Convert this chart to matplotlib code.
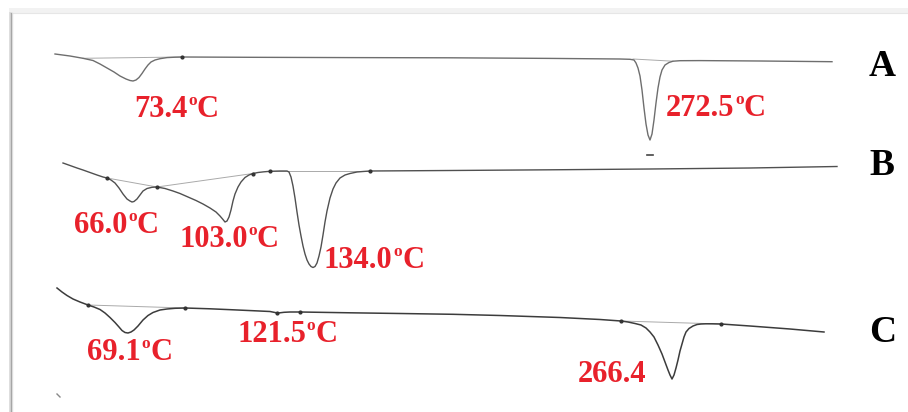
import numpy as np
import matplotlib
matplotlib.use("Agg")
import matplotlib.pyplot as plt

# --- traced DSC curves (x = horizontal position, y = signal, downward = endotherm) ---
# Curve A
a_x = [55, 70, 83, 93, 100, 107, 114, 120, 126, 130, 133, 136, 139, 142, 145, 148, 151, 155, 160, 167,
       175, 182, 250, 350, 450, 550, 620, 630, 634, 636, 638, 640, 642, 644, 646, 648, 650, 652, 654,
       656, 658, 660, 662, 665, 669, 673, 680, 700, 760, 832]
a_y = [54, 56, 58.3, 60.5, 64, 68, 72, 76, 79, 80.5, 81, 80, 77.5, 73.5, 69, 65, 62, 60, 58.7, 57.6,
       57.2, 57, 57.3, 57.6, 57.8, 58.4, 59, 59.3, 60, 63, 68, 76, 90, 108, 124, 135, 140, 134, 120,
       103, 88, 77, 70, 65, 62.5, 61.2, 60.7, 60.6, 61, 61.7]

# Curve B
b_x = [63, 70, 77, 83, 90, 97, 103, 107, 111, 115, 119, 123, 127, 130, 132, 134, 137, 140, 143, 147,
       152, 157, 165, 173, 180, 188, 196, 203, 210, 216, 220, 223, 225, 227, 229, 231, 233, 235, 238,
       241, 245, 249, 253, 258, 264, 270, 280, 287, 289, 291, 293, 295, 297, 299, 301, 303, 305, 307,
       309, 311, 313, 315, 317, 319, 321, 323, 325, 327, 330, 333, 336, 340, 345, 350, 357, 363, 370,
       450, 550, 650, 750, 837]
b_y = [163, 165.5, 168, 170, 172.5, 175, 177, 178, 180, 183, 188, 194, 199, 201, 202, 201.5, 199, 195,
       191, 188.5, 187.3, 187, 188.5, 191, 193.5, 197, 200.5, 204, 208, 212, 216, 219.5, 222, 221,
       217, 210, 201, 194, 187, 182, 177.5, 175, 173.5, 172.5, 171.8, 171.3, 171, 171, 172, 177, 186,
       198, 212, 225, 236, 246, 254, 260, 264, 266.5, 267.5, 266.5, 263, 256, 247, 235, 222, 211,
       198, 189, 183, 178, 175, 173.5, 172, 171.5, 171, 170.5, 169.8, 169, 168, 166.5]

# Curve C
c_x = [57, 62, 67, 73, 80, 88, 94, 100, 105, 110, 115, 119, 122, 125, 128, 131, 134, 138, 143, 148,
       153, 160, 167, 175, 185, 210, 233, 255, 270, 275, 277, 280, 284, 290, 300, 350, 400, 453, 500,
       560, 600, 621, 628, 635, 641, 646, 650, 654, 658, 662, 665, 668, 670, 672, 674, 676, 678, 680,
       682, 684, 686, 689, 693, 697, 701, 706, 712, 721, 750, 790, 824]
c_y = [288, 292, 295.5, 299, 302, 305, 307, 309.5, 313, 317.5, 322.5, 327, 330.5, 332.5, 333, 332, 330,
       326, 320, 315.5, 312.5, 310, 309, 308.3, 308, 308.8, 309.8, 310.8, 311.5, 312.5, 313, 312.8,
       312.3, 312, 312, 312.8, 313.5, 314.3, 315.5, 317.5, 319.5, 321, 322, 323.5, 325, 328, 332, 337,
       345, 354, 362, 370, 375, 379, 375, 368, 360, 351, 344, 337, 332, 328.5, 326, 324.5, 324, 323.8,
       323.8, 324, 326, 329, 332]

# baseline construction lines (start, end) per curve
base_lines = [((83, 182), (58.3, 57)), ((633, 673), (59, 61.2)),
              ((107, 157), (178, 187)), ((157, 253), (187, 173.5)), ((270, 370), (171, 171)),
              ((88, 185), (305, 308)), ((621, 721), (321, 324))]

# small event markers on curves
mark_x = [182, 107, 157, 253, 270, 370, 88, 185, 277, 300, 621, 721]
mark_y = [57, 178, 187, 173.5, 171, 171, 305, 308, 313, 312, 321, 324]

# peak labels (temperature, whether the degree sign is written)
peak_temps = ["73.4", "272.5", "66.0", "103.0", "134.0", "69.1", "121.5", "266.4"]
has_degree = [True, True, True, True, True, True, True, False]
label_x = [134, 666, 74, 179, 324, 87, 237, 578]
label_y = [109, 108, 225, 239, 260, 352, 334, 375]

curve_names = ["A", "B", "C"]
name_y = [66, 165, 332]

RED = '#e8212b'
FONT = 'Liberation Serif'

fig = plt.figure(figsize=(9.08, 4.12), dpi=100)
ax = fig.add_axes([0, 0, 1, 1])
ax.set_xlim(0, 908)
ax.set_ylim(412, 0)
ax.axis('off')

# frame with a soft shadow (top and left edges)
ax.fill_between([9, 908], 8, 13, color='#f2f2f2', lw=0)
ax.plot([10, 908], [12.5, 12.5], color='#e6e6e6', lw=0.8)
ax.plot([9.5, 9.5], [13, 412], color='#d8d8d8', lw=1.2)
ax.plot([10.7, 10.7], [13, 412], color='#9a9a9a', lw=1.0)
ax.plot([12, 12], [13, 412], color='#dcdcdc', lw=1.0)

# baselines
for (bx, by) in base_lines:
    ax.plot(bx, by, color='#aaaaaa', lw=0.7)

# curves
ax.plot(a_x, a_y, color='#6e6e6e', lw=1.0)
ax.plot(b_x, b_y, color='#505050', lw=1.0)
ax.plot(c_x, c_y, color='#3c3c3c', lw=1.1)
ax.plot(mark_x, mark_y, ls='none', marker='o', ms=2.0, color='#333333')

# little stray ticks from the scan
ax.plot([647, 653], [155, 155], color='#444444', lw=1.2)
ax.plot([57, 60], [394, 397], color='#888888', lw=1.0)

# labels: number, then a small raised "o", then "C"
for temp, deg, lx, ly in zip(peak_temps, has_degree, label_x, label_y):
    t_num = ax.text(lx, ly, temp, color=RED, fontsize=22, fontweight='bold',
                    family=FONT, ha='left', va='center')
    if deg:
        t_o = ax.annotate('o', xy=(1, 0), xycoords=t_num, xytext=(0.4, 10.2),
                          textcoords='offset points', color=RED, fontsize=12.5,
                          fontweight='bold', family=FONT, ha='left', va='bottom')
        ax.annotate('C', xy=(1, 0), xycoords=(t_o, t_num), xytext=(0.2, 0),
                    textcoords='offset points', color=RED, fontsize=22,
                    fontweight='bold', family=FONT, ha='left', va='bottom')

for name, ny in zip(curve_names, name_y):
    ax.text(869, ny, name, color='black', fontsize=27, fontweight='bold',
            family=FONT, ha='left', va='center')

fig.savefig('out.png', dpi=100)
